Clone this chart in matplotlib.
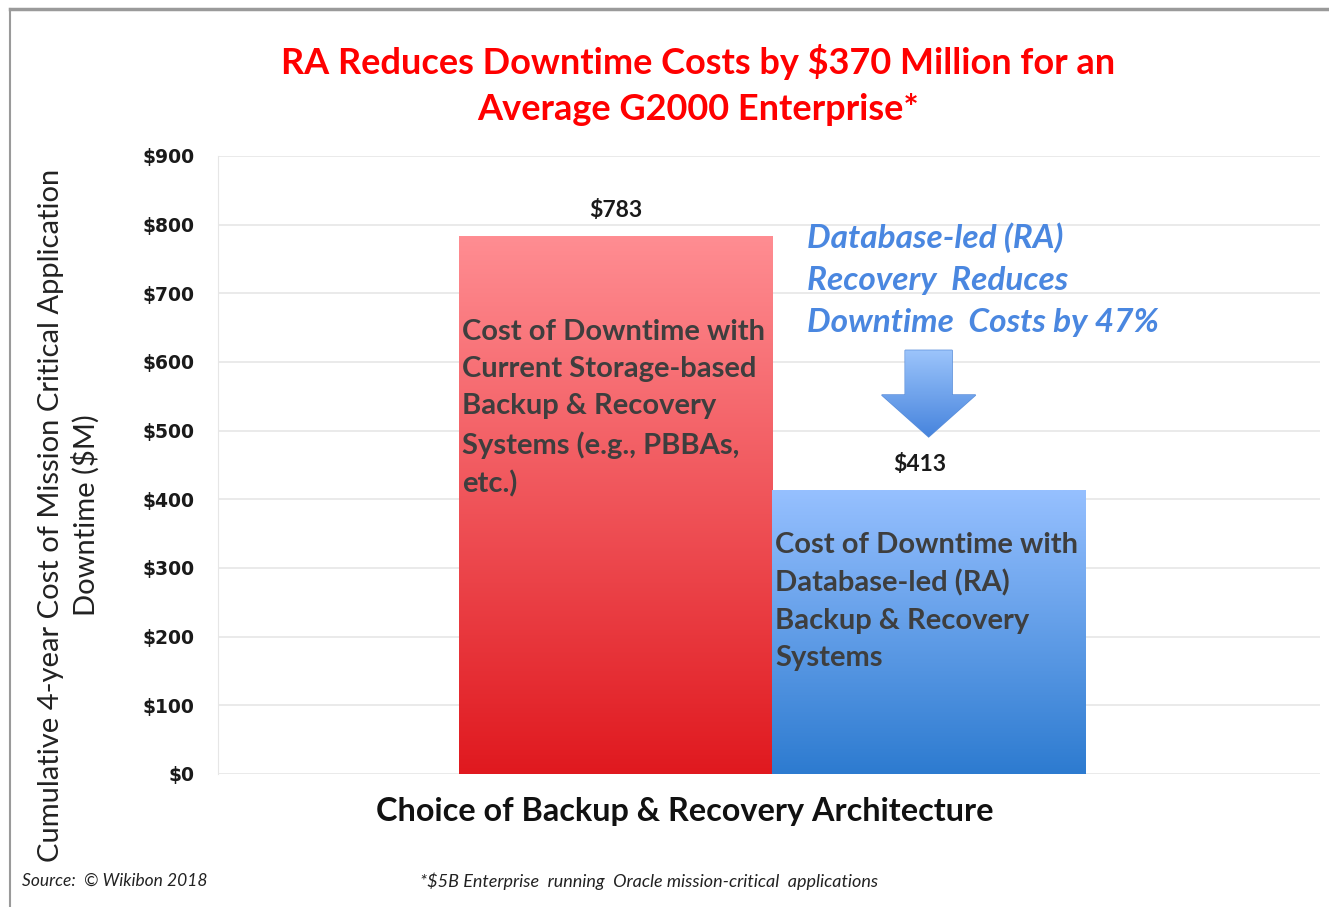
import matplotlib
matplotlib.use("Agg")
import matplotlib.pyplot as plt
import numpy as np
from matplotlib.colors import LinearSegmentedColormap
from matplotlib.patches import FancyArrow
from matplotlib.lines import Line2D

# data
categories = ["Current Storage-based", "Database-led (RA)"]
values = [783, 413]
value_labels = ["$783", "$413"]
bar_texts = [
    "Cost of Downtime with\nCurrent Storage-based\nBackup & Recovery\nSystems (e.g., PBBAs,\netc.)",
    "Cost of Downtime with\nDatabase-led (RA)\nBackup & Recovery\nSystems",
]
yticks = list(range(0, 1000, 100))
ytick_labels = [f"${v}" for v in yticks]

title = "RA Reduces Downtime Costs by $370 Million for an\nAverage G2000 Enterprise*"
ylabel = "Cumulative 4-year Cost of Mission Critical Application\nDowntime ($M)"
xlabel = "Choice of Backup & Recovery Architecture"
callout = "Database-led (RA)\nRecovery  Reduces\nDowntime  Costs by 47%"

# styling
bar_colors = [("#FF8D92", "#E0191F"), ("#96C0FF", "#2D7BD0")]
text_drop = [121, 61]   # how far below each bar top its inner text starts
label_dx = [0.0, -0.03]

W, H = 1329, 907
fig = plt.figure(figsize=(W / 100, H / 100), dpi=100)
ax = fig.add_axes([218 / W, 1 - 774 / H, (1320 - 218) / W, (774 - 156) / H])


def gradient_fill(patch, top_c, bot_c, extent):
    cmap = LinearSegmentedColormap.from_list("g", [bot_c, top_c])
    grad = np.linspace(0, 1, 256).reshape(-1, 1)
    im = ax.imshow(grad, cmap=cmap, origin="lower", aspect="auto",
                   extent=extent, zorder=patch.get_zorder())
    im.set_clip_path(patch)


x = np.arange(len(categories))
bars = ax.bar(x, values, width=1.0, color="none", edgecolor="none", zorder=2)
for b, (top_c, bot_c) in zip(bars, bar_colors):
    x0, y0 = b.get_x(), b.get_y()
    gradient_fill(b, top_c, bot_c, [x0, x0 + b.get_width(), y0, y0 + b.get_height()])

ax.set_xlim(-1.27, 2.25)
ax.set_ylim(0, 900)
ax.set_yticks(yticks)
ax.set_yticklabels(ytick_labels, fontsize=13.5, fontweight="bold", family="DejaVu Sans",
                   color="#1A1A1A")
ax.set_xticks([])
ax.tick_params(axis="y", length=0, pad=17)
ax.grid(axis="y", color="#E6E6E6", linewidth=1.2, zorder=0)
for s in ["top", "right", "bottom"]:
    ax.spines[s].set_visible(False)
ax.spines["left"].set_color("#E6E6E6")

for xi, v, lab, dx in zip(x, values, value_labels, label_dx):
    ax.text(xi + dx, v + 37, lab, ha="center", va="center", fontsize=16.5,
            fontweight="bold", family="Lato", color="#1A1A1A")

for xi, v, t, drop in zip(x, values, bar_texts, text_drop):
    ax.text(xi - 0.49, v - drop, t, ha="left", va="top", fontsize=21,
            fontweight="bold", family="Lato", color="#3E3E3E", linespacing=1.52)

ax.text(1 - 0.39, 804, callout, ha="left", va="top", fontsize=24,
        fontweight="bold", fontstyle="italic", family="Lato",
        color="#4A87E0", linespacing=1.54)

arrow = FancyArrow(1.0, 617, 0, -126, width=0.15, head_width=0.30,
                   head_length=61, length_includes_head=True,
                   facecolor="none", edgecolor="#5A8EDA", linewidth=1, zorder=3)
ax.add_patch(arrow)
gradient_fill(arrow, "#9CC4FB", "#4684DD", [0.85, 1.15, 491, 617])

fig.text(698 / W, 1 - 85 / H, title, ha="center", va="center", fontsize=26,
         fontweight="bold", family="Lato", color="#FF0000", linespacing=1.46)
fig.text(69 / W, 1 - 515 / H, ylabel, ha="center", va="center", rotation=90,
         fontsize=21, family="Lato", color="#222222", linespacing=1.3)
fig.text(685 / W, 1 - 812 / H, xlabel, ha="center", va="center", fontsize=23.3,
         fontweight="bold", family="Lato", color="#111111")
fig.text(22 / W, 1 - 881 / H, "Source:  \u00a9 Wikibon 2018", ha="left", va="center",
         fontsize=12.5, fontstyle="italic", family="Lato", color="#222222")
fig.text(420 / W, 1 - 881 / H,
         "*$5B Enterprise  running  Oracle mission-critical  applications",
         ha="left", va="center", fontsize=13, fontstyle="italic", family="Lato",
         color="#222222")

# outer frame (top and left edges)
fig.add_artist(Line2D([10 / W, 1], [1 - 9 / H, 1 - 9 / H], color="#9A9A9A", linewidth=2.5))
fig.add_artist(Line2D([10 / W, 10 / W], [0, 1 - 9 / H], color="#9A9A9A", linewidth=1.5))

fig.savefig("out.png", dpi=100)
